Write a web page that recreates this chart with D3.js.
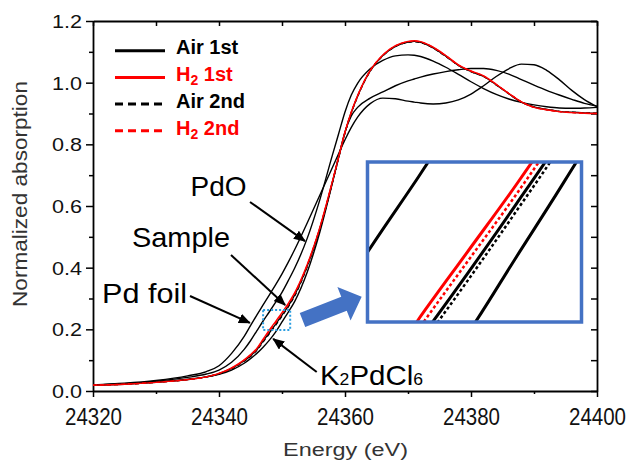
<!DOCTYPE html>
<html><head><meta charset="utf-8">
<script src="https://cdn.jsdelivr.net/npm/d3@7"></script>
<style>body{margin:0;background:#fff}svg{display:block}</style>
</head><body>
<svg id="chart" width="630" height="462"></svg>
<script>
// ---------------- data ----------------
const energies = [24320,24325,24330,24335,24338,24340,24342,24344,24345,24346,24347,24348,24349,24350,24351,24352,24354,24356,24358,24359,24360,24361,24362,24364,24366,24368,24370,24371,24372,24374,24376,24378,24380,24382,24384,24386,24388,24390,24392,24394,24396,24398,24400];
const pdFoil  = [0.020,0.025,0.034,0.049,0.063,0.082,0.122,0.177,0.212,0.246,0.279,0.312,0.345,0.380,0.418,0.458,0.545,0.635,0.725,0.770,0.815,0.855,0.888,0.932,0.950,0.948,0.940,0.937,0.934,0.931,0.934,0.944,0.963,0.990,1.020,1.045,1.060,1.058,1.040,1.010,0.975,0.945,0.922];
const pdO     = [0.020,0.024,0.032,0.044,0.055,0.068,0.093,0.135,0.163,0.195,0.227,0.257,0.288,0.320,0.358,0.398,0.495,0.620,0.765,0.835,0.905,0.960,0.998,1.045,1.072,1.087,1.090,1.089,1.085,1.070,1.050,1.027,1.003,0.981,0.962,0.947,0.936,0.928,0.922,0.918,0.917,0.918,0.920];
const k2PdCl6 = [0.020,0.023,0.029,0.038,0.046,0.054,0.068,0.090,0.105,0.122,0.142,0.165,0.192,0.224,0.256,0.290,0.385,0.515,0.675,0.760,0.840,0.892,0.920,0.950,0.970,0.990,1.006,1.012,1.018,1.028,1.036,1.042,1.046,1.046,1.040,1.028,1.010,0.992,0.975,0.960,0.946,0.933,0.924];
const air1st  = [0.019,0.022,0.028,0.037,0.046,0.056,0.073,0.098,0.114,0.134,0.162,0.189,0.217,0.246,0.276,0.311,0.405,0.526,0.677,0.758,0.838,0.903,0.956,1.038,1.088,1.118,1.132,1.134,1.131,1.113,1.086,1.056,1.036,1.020,0.993,0.964,0.937,0.921,0.913,0.907,0.904,0.902,0.901];
const h21st   = [0.019,0.022,0.028,0.037,0.046,0.057,0.075,0.101,0.118,0.138,0.168,0.198,0.226,0.254,0.284,0.318,0.410,0.530,0.680,0.760,0.840,0.905,0.958,1.040,1.090,1.120,1.134,1.136,1.133,1.115,1.088,1.058,1.038,1.022,0.995,0.965,0.938,0.920,0.912,0.906,0.903,0.901,0.900];
const air2nd  = [0.019,0.022,0.028,0.037,0.046,0.056,0.072,0.097,0.112,0.132,0.159,0.186,0.214,0.243,0.273,0.308,0.403,0.525,0.676,0.757,0.837,0.902,0.955,1.037,1.087,1.117,1.131,1.133,1.130,1.112,1.085,1.056,1.036,1.020,0.993,0.964,0.937,0.921,0.913,0.907,0.904,0.902,0.901];
const h22nd   = [0.019,0.022,0.028,0.037,0.046,0.057,0.074,0.100,0.116,0.136,0.165,0.194,0.222,0.250,0.280,0.315,0.408,0.529,0.679,0.759,0.839,0.904,0.957,1.039,1.089,1.119,1.133,1.135,1.132,1.114,1.087,1.057,1.037,1.021,0.994,0.965,0.938,0.920,0.912,0.906,0.903,0.901,0.900];

const xTicks = [24320,24340,24360,24380,24400];
const xMinorTicks = [24330,24350,24370,24390];
const yTicks = [0,0.2,0.4,0.6,0.8,1.0,1.2];
const yMinorTicks = [0.1,0.3,0.5,0.7,0.9,1.1];
const xTitle = "Energy (eV)";
const yTitle = "Normalized absorption";
const legendLabels = ["Air 1st","H2 1st","Air 2nd","H2 2nd"];
const annotationLabels = ["PdO","Sample","Pd foil","K2PdCl6"];
const annotationTargetE = [24353.65,24350.5,24344.9,24348.6];
const annotationTargetV = [0.486,0.279,0.221,0.169];
const zoomEnergy = [24347.0,24351.3];
const zoomValue = [0.198,0.263];

// ---------------- layout / style ----------------
const svg = d3.select("#chart");
const FONT = "'Liberation Sans', Arial, sans-serif";
const plot = {l:93, r:597, t:21, b:391};
const x = d3.scaleLinear().domain([24320,24400]).range([plot.l, plot.r]);
const y = d3.scaleLinear().domain([0,1.2]).range([plot.b, plot.t]);

const refSeries = [pdFoil, pdO, k2PdCl6];
const sampleSeries = [
  {v: air1st, color:"#000", dash:null},
  {v: air2nd, color:"#000", dash:"dash"},
  {v: h21st,  color:"#ff0000", dash:null},
  {v: h22nd,  color:"#ff0000", dash:"dash"}
];
const legendStyle = [
  {color:"#000", dash:null, text:"#000"},
  {color:"#ff0000", dash:null, text:"#ff0000"},
  {color:"#000", dash:"dash", text:"#000"},
  {color:"#ff0000", dash:"dash", text:"#ff0000"}
];

function rich(textSel, str, subSize, subShift){
  const parts = str.split(/(?<=[A-Za-z])(\d+)/);
  let shifted = false;
  parts.forEach((p,i)=>{
    if(p==="") return;
    const t = textSel.append("tspan").text(p);
    if(i%2===1){ t.attr("font-size", subSize); if(subShift){t.attr("dy", subShift);} shifted = true; }
    else if(shifted && subShift){ t.attr("dy", -subShift); shifted=false; }
  });
}

// ---------------- axes ----------------
const axG = svg.append("g").attr("font-family", FONT);

const gx = axG.append("g").attr("transform",`translate(0,${plot.b})`)
  .call(d3.axisBottom(x).tickValues(xTicks).tickSize(6).tickSizeOuter(0).tickFormat(d3.format("d")));
gx.selectAll(".tick text").attr("y",34).attr("dy",null)
  .attr("font-size",23.5).attr("fill","#111")
  .attr("textLength",57).attr("lengthAdjust","spacingAndGlyphs");
const gxm = axG.append("g").attr("transform",`translate(0,${plot.b})`)
  .call(d3.axisBottom(x).tickValues(xMinorTicks).tickSize(3).tickFormat(""));
gxm.select(".domain").remove();

const gy = axG.append("g").attr("transform",`translate(${plot.l},0)`)
  .call(d3.axisLeft(y).tickValues(yTicks).tickSize(7).tickSizeOuter(0).tickFormat(d3.format(".1f")));
gy.selectAll(".tick text").attr("x",-11).attr("dy",null).attr("y",6.5)
  .attr("font-size",19).attr("fill","#111")
  .attr("textLength",30).attr("lengthAdjust","spacingAndGlyphs");
const gym = axG.append("g").attr("transform",`translate(${plot.l},0)`)
  .call(d3.axisLeft(y).tickValues(yMinorTicks).tickSize(4).tickFormat(""));
gym.select(".domain").remove();

const gt = axG.append("g").attr("transform",`translate(0,${plot.t})`)
  .call(d3.axisTop(x).tickValues(xTicks.concat(xMinorTicks)).tickSize(-5).tickSizeOuter(0).tickFormat(""));
const gr = axG.append("g").attr("transform",`translate(${plot.r},0)`)
  .call(d3.axisRight(y).tickValues(yTicks.concat(yMinorTicks)).tickSize(-6).tickSizeOuter(0).tickFormat(""));

axG.selectAll(".domain").attr("stroke","#000").attr("stroke-width",1.8);
axG.selectAll(".tick line").attr("stroke","#000").attr("stroke-width",1.5);

axG.append("text").attr("x",345.5).attr("y",456).attr("text-anchor","middle")
  .attr("font-size",18).attr("fill","#333")
  .attr("textLength",125).attr("lengthAdjust","spacingAndGlyphs").text(xTitle);
axG.append("text").attr("transform","translate(26.7,194) rotate(-90)").attr("text-anchor","middle")
  .attr("font-size",21).attr("fill","#333")
  .attr("textLength",226).attr("lengthAdjust","spacingAndGlyphs").text(yTitle);

// ---------------- curves ----------------
function lineGen(xs, ys){
  return d3.line().x((d,i)=>xs(energies[i])).y(d=>ys(d)).curve(d3.curveMonotoneX);
}
const mainLine = lineGen(x,y);
const curves = svg.append("g");
refSeries.forEach(s=>{
  curves.append("path").attr("d",mainLine(s)).attr("fill","none")
    .attr("stroke","#000").attr("stroke-width",1.4);
});
sampleSeries.forEach(s=>{
  curves.append("path").attr("d",mainLine(s.v)).attr("fill","none")
    .attr("stroke",s.color).attr("stroke-width",1.4)
    .attr("stroke-dasharray",s.dash?"4,3":null);
});

// ---------------- legend ----------------
const lg = svg.append("g").attr("font-family",FONT);
legendLabels.forEach((lab,i)=>{
  const ly = 50.7 + i*26.7;
  lg.append("line").attr("x1",115).attr("x2",165).attr("y1",ly).attr("y2",ly)
    .attr("stroke",legendStyle[i].color).attr("stroke-width",3)
    .attr("stroke-dasharray",legendStyle[i].dash?"8,5":null);
  const t = lg.append("text").attr("x",176).attr("y",ly+3.7)
    .attr("font-size",20).attr("font-weight","bold").attr("fill",legendStyle[i].text);
  rich(t, lab, 14, 4);
});

// ---------------- annotations ----------------
const defs = svg.append("defs");
defs.append("marker").attr("id","ah").attr("viewBox","0 0 12 10")
  .attr("refX",11).attr("refY",5).attr("markerWidth",12).attr("markerHeight",10)
  .attr("markerUnits","userSpaceOnUse").attr("orient","auto")
  .append("path").attr("d","M0,0 L12,5 L0,10 z").attr("fill","#000");

const annLayout = [
  {tx:190.5, ty:196, len:56, fx:250, fy:202},
  {tx:132, ty:247, len:98, fx:231, fy:255},
  {tx:102, ty:303, len:85, fx:190, fy:296},
  {tx:320, ty:385, len:103, fx:316.7, fy:372}
];
const ag = svg.append("g").attr("font-family",FONT);
annotationLabels.forEach((lab,i)=>{
  const L = annLayout[i];
  const t = ag.append("text").attr("x",L.tx).attr("y",L.ty).attr("font-size",28.5).attr("fill","#000")
    .attr("textLength",L.len).attr("lengthAdjust","spacingAndGlyphs");
  rich(t, lab, 17, 0);
  ag.append("line").attr("x1",L.fx).attr("y1",L.fy)
    .attr("x2",x(annotationTargetE[i])).attr("y2",y(annotationTargetV[i]))
    .attr("stroke","#000").attr("stroke-width",2).attr("marker-end","url(#ah)");
});

// dotted zoom box
svg.append("rect")
  .attr("x",x(zoomEnergy[0])).attr("y",y(zoomValue[1]))
  .attr("width",x(zoomEnergy[1])-x(zoomEnergy[0])).attr("height",y(zoomValue[0])-y(zoomValue[1]))
  .attr("fill","none").attr("stroke","#2a9de0").attr("stroke-width",2).attr("stroke-dasharray","2,2");

// big blue arrow
const BL=63.6, HL=19, SW=7.5, HW=18;
svg.append("polygon")
  .attr("points",[[0,-SW],[BL-HL,-SW],[BL-HL,-HW],[BL,0],[BL-HL,HW],[BL-HL,SW],[0,SW]].map(p=>p.join(",")).join(" "))
  .attr("transform","translate(302.5,320) rotate(-21.5)")
  .attr("fill","#4472c4");

// ---------------- inset ----------------
const inset = {l:367.5, r:581.5, t:162, b:322};
const xi = d3.scaleLinear().domain(zoomEnergy).range([inset.l+1.5, inset.r-1.5]);
const yi = d3.scaleLinear().domain(zoomValue).range([inset.b-2, inset.t+1]);
defs.append("clipPath").attr("id","insetClip").append("rect")
  .attr("x",inset.l).attr("y",inset.t).attr("width",inset.r-inset.l).attr("height",inset.b-inset.t);
svg.append("rect").attr("x",inset.l).attr("y",inset.t).attr("width",inset.r-inset.l).attr("height",inset.b-inset.t)
  .attr("fill","#fff");
const ig = svg.append("g").attr("clip-path","url(#insetClip)");
const insetLine = lineGen(xi, yi);
refSeries.forEach(s=>{
  ig.append("path").attr("d",insetLine(s)).attr("fill","none").attr("stroke","#000").attr("stroke-width",3);
});
sampleSeries.forEach(s=>{
  ig.append("path").attr("d",insetLine(s.v)).attr("fill","none")
    .attr("stroke",s.color).attr("stroke-width",s.dash?2.5:3)
    .attr("stroke-dasharray",s.dash?"3,2.5":null);
});
svg.append("rect").attr("x",inset.l).attr("y",inset.t).attr("width",inset.r-inset.l).attr("height",inset.b-inset.t)
  .attr("fill","none").attr("stroke","#4472c4").attr("stroke-width",3.5);
</script>
</body></html>
